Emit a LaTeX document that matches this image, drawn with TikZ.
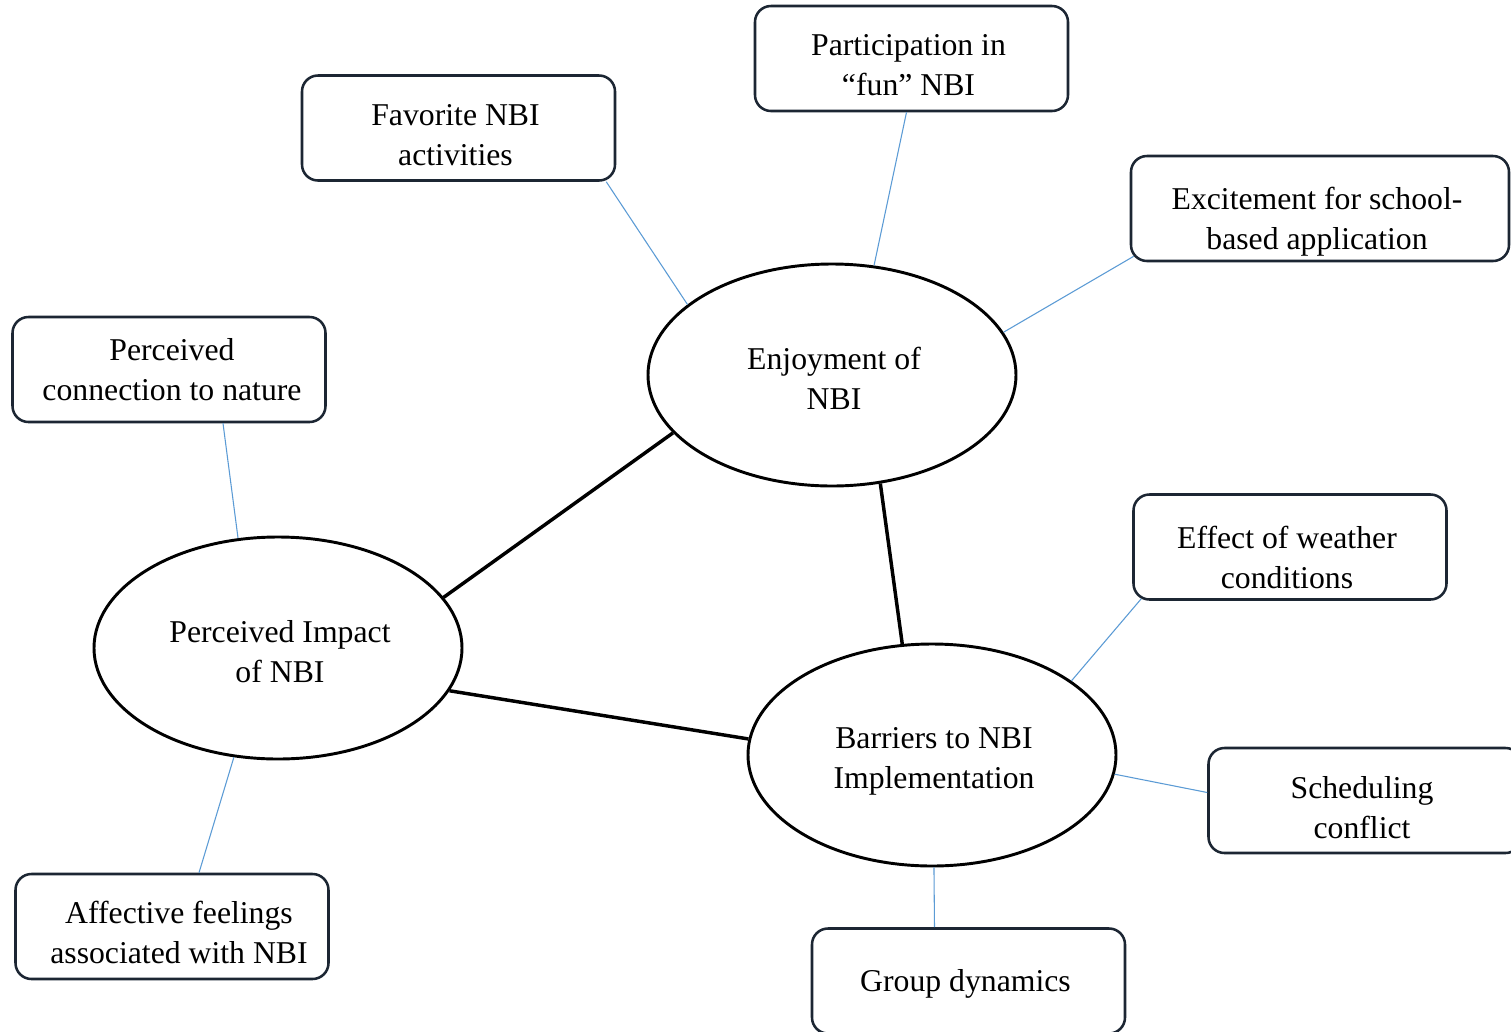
\documentclass[tikz,border=0pt]{standalone}
\usepackage{fontspec}
\setmainfont{Liberation Serif}
\usetikzlibrary{shapes.geometric,calc}
\definecolor{boxline}{HTML}{1C2633}
\definecolor{thinblue}{HTML}{5B9BD5}
\begin{document}
\begin{tikzpicture}[x=0.75pt,y=-0.75pt,
  txt/.style={font=\fontsize{23.8pt}{30pt}\selectfont, align=center, inner sep=0pt},
  topic/.style={draw=boxline, line width=1.9pt, rounded corners=12pt,
    minimum width=234.75pt, minimum height=78.75pt, inner sep=0pt, fill=white},
  theme/.style={ellipse, draw=black, line width=2.2pt,
    minimum width=276pt, minimum height=166.5pt, inner sep=0pt, fill=white},
  sub/.style={draw=thinblue, line width=0.8pt},
  main/.style={draw=black, line width=2.6pt}]
\useasboundingbox (0,0) rectangle (1511,1032);
\fill[white] (0,0) rectangle (1511,1032);

% themes
\node[theme] (enj) at (832,375) {};
\node[theme] (imp) at (278,648) {};
\node[theme] (bar) at (932,755) {};
\node[txt] (enjT) at ($(enj)+(2,3)$) {Enjoyment of\\NBI};
\node[txt] (impT) at ($(imp)+(2,4)$) {Perceived Impact\\of NBI};
\node[txt] (barT) at ($(bar)+(2,6)$) {Barriers to NBI\\Implementation};

% sub-topics
\node[topic] (fav) at (458.5,128) {};
\node[topic] (par) at (911.5,58.5) {};
\node[topic, minimum width=283.5pt] (exc) at (1320,208.5) {};
\node[topic] (con) at (169,369.5) {};
\node[topic] (eff) at (1290,547) {};
\node[topic] (sch) at (1365,800.5) {};
\node[topic] (grp) at (968.5,981) {};
\node[topic] (aff) at (172,926.5) {};
\node[txt] (favT) at ($(fav)+(-3,7)$) {Favorite NBI\\activities};
\node[txt] (parT) at ($(par)+(-3,7)$) {Participation in\\“fun” NBI};
\node[txt] (excT) at ($(exc)+(-3,13)$) {Excitement for school-\\based application};
\node[txt] (conT) at ($(con)+(3,0)$) {Perceived\\connection to nature};
\node[txt] (effT) at ($(eff)+(-3,10)$) {Effect of weather\\conditions};
\node[txt] (schT) at ($(sch)+(-3,7)$) {Scheduling\\conflict};
\node[txt] (grpT) at ($(grp)+(-3,3)$) {Group dynamics};
\node[txt] (affT) at ($(aff)+(7,6)$) {Affective feelings\\associated with NBI};

% main links
\draw[main] (enj.200.6) -- (imp.17.7);
\draw[main] (enj.294.8) -- (bar.105.7);
\draw[main] (imp.346.2) -- (bar.175.6);

% thin links
\draw[sub] ($(fav.south east)+(-10,0)$) -- (enj.154.7);
\draw[sub] ($(par.south)+(-5,0)$) -- (enj.69.5);
\draw[sub] ($(exc.south west)+(4,-6)$) -- (enj.14.1);
\draw[sub] ($(con.south)+(54,0)$) -- (imp.110);
\draw[sub] ($(aff.north)+(27,0)$) -- (imp.248.1);
\draw[sub] ($(eff.south west)+(9,-2)$) -- (bar.28.6);
\draw[sub] ($(sch.west)+(0,-8)$) -- (bar.354.1);
\draw[sub] ($(grp.north)+(-34,0)$) -- (bar.271);
\end{tikzpicture}
\end{document}
